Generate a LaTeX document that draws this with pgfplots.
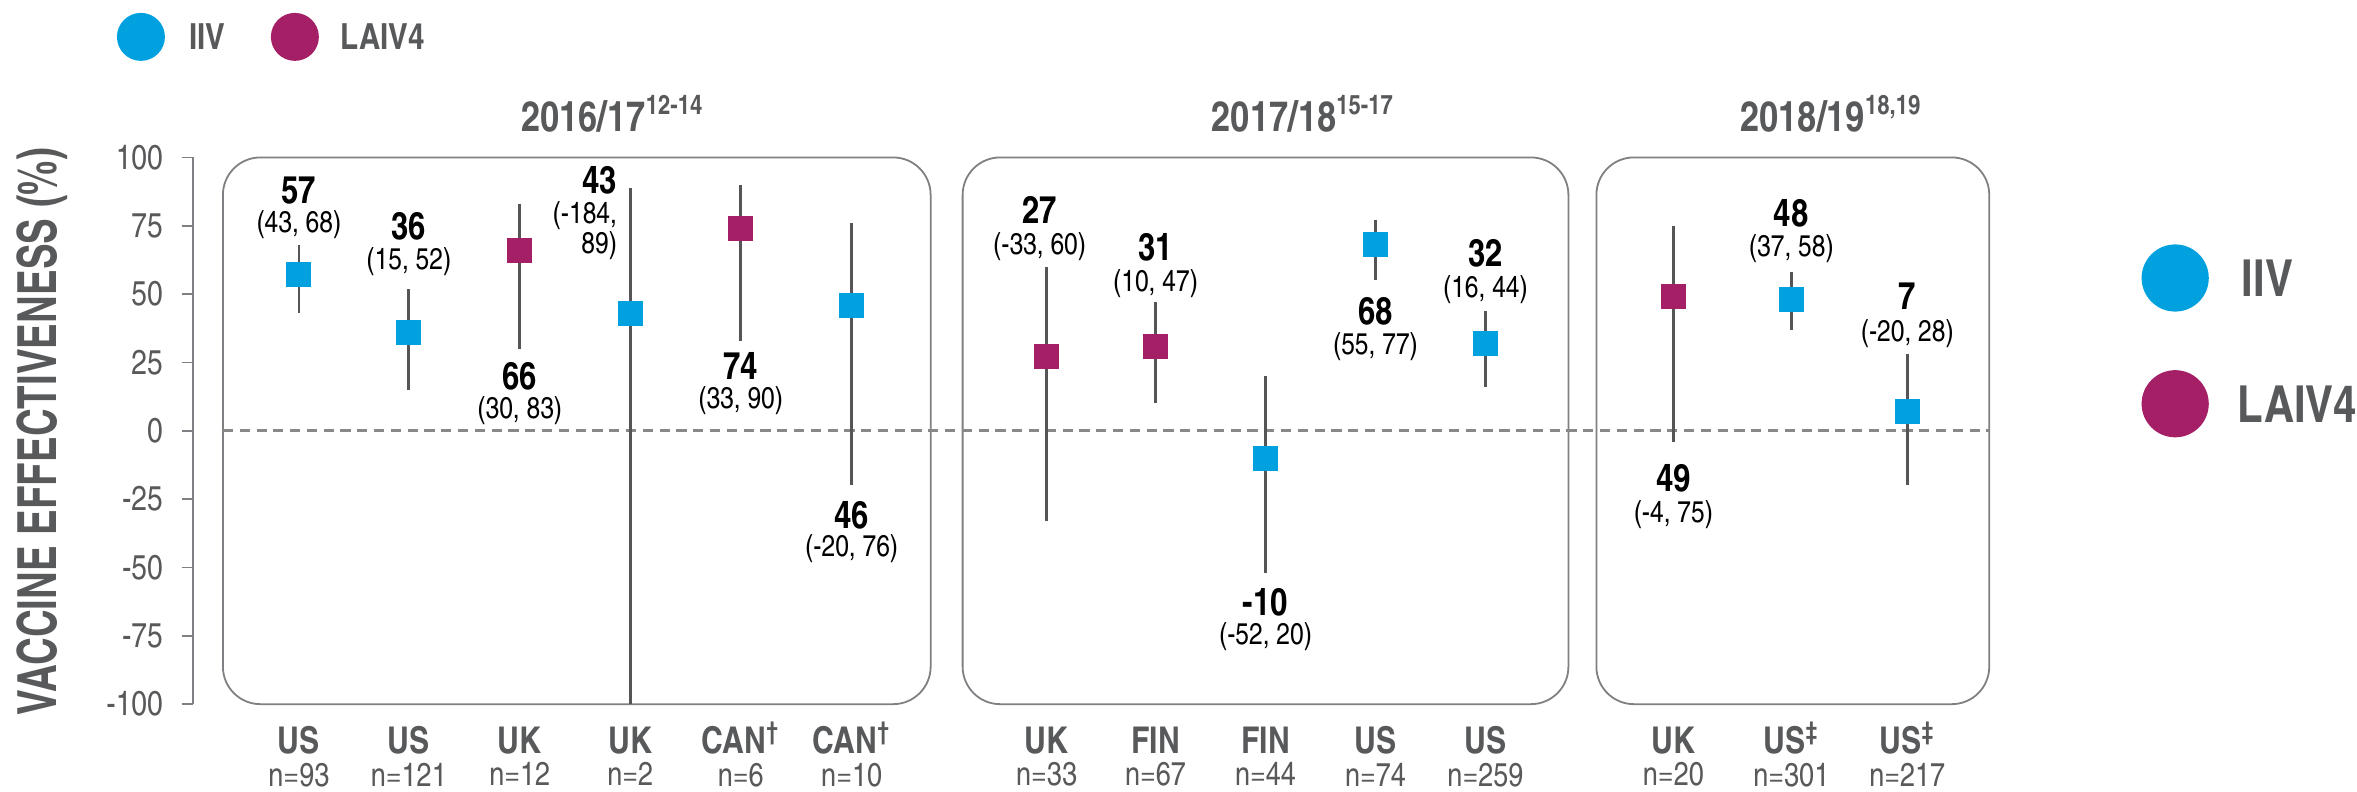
\documentclass[border=0pt]{standalone}
\usepackage{fontspec}
\setmainfont{texgyreheroscn}[Extension=.otf, UprightFont=*-regular, BoldFont=*-bold, ItalicFont=*-italic, BoldItalicFont=*-bolditalic]
\usepackage{graphicx}
\usepackage{pgfplots}
\usepackage{pgfplotstable}
\pgfplotsset{compat=1.18}

\definecolor{iiv}{RGB}{0,161,222}
\definecolor{laiv}{RGB}{165,31,103}
\definecolor{txtg}{RGB}{88,89,91}
\definecolor{whisk}{RGB}{85,85,88}
\definecolor{panelc}{RGB}{128,128,132}
\definecolor{dashc}{RGB}{136,136,136}

% x: position, v: effectiveness, lo/hi: 95% CI (UK n=2 lower bound -184 is cut at the axis floor -100)
\pgfplotstableread{
x      v    lo    hi
2.99   57   43    68
4.09   36   15    52
6.305  43  -100   89
8.52   46  -20    76
12.66 -10  -52    20
13.76  68   55    77
14.86  32   16    44
17.92  48   37    58
19.08   7  -20    28
}\iivtab

\pgfplotstableread{
x      v    lo    hi
5.20   66   30    83
7.41   74   33    90
10.47  27  -33    60
11.56  31   10    47
16.74  49   -4    75
}\laivtab

\newcommand{\valfont}{\fontsize{12.7}{13}\selectfont\bfseries}
\newcommand{\cifont}{\fontsize{10}{11}\selectfont}
\newcommand{\lab}[5]{%
  \node[anchor=base, inner sep=0pt, font=\valfont, text=black] at (axis cs:#1,#2) {#3};
  \node[anchor=base, inner sep=0pt, font=\cifont, text=black] at (axis cs:#1,#4) {#5};}
\newcommand{\cat}[2]{{\fontsize{12.3}{10.9}\selectfont\bfseries #1}\\#2}

\begin{document}
\begin{tikzpicture}
\begin{axis}[
  set layers=standard,
  width=721.4pt, height=182.3pt, scale only axis,
  xmin=1.927, xmax=23.57, ymin=-100, ymax=100,
  clip=false,
  axis lines*=left,
  x axis line style={draw=none},
  y axis line style={panelc, line width=0.6pt},
  ytick={-100,-75,...,100},
  tick align=outside,
  major tick length=3.7pt,
  ytick style={panelc, line width=0.6pt},
  xtick style={draw=none},
  /pgf/number format/assume math mode=true,
  yticklabel style={font=\fontsize{11.5}{12}\selectfont, text=txtg, inner sep=0pt, xshift=-6pt},
  xtick={2.99,4.09,5.20,6.305,7.41,8.52,10.47,11.56,12.66,13.76,14.86,16.74,17.92,19.08},
  xticklabels={
    \cat{US}{n=93}, \cat{US}{n=121}, \cat{UK}{n=12}, \cat{UK}{n=2},
    \cat{CAN\textsuperscript{\smash{†}}}{n=6}, \cat{CAN\textsuperscript{\smash{†}}}{n=10},
    \cat{UK}{n=33}, \cat{FIN}{n=67}, \cat{FIN}{n=44}, \cat{US}{n=74}, \cat{US}{n=259},
    \cat{UK}{n=20}, \cat{US\textsuperscript{\smash{‡}}}{n=301}, \cat{US\textsuperscript{\smash{‡}}}{n=217}},
  xticklabel style={font=\fontsize{11}{10.9}\selectfont, text=txtg, align=center, anchor=north, inner sep=0pt, yshift=-3.6pt, overlay},
]
% bounding box of the whole figure
\path (axis cs:0,157.6) rectangle (axis cs:23.57,-132.0);

% panels and zero line (background)
\begin{pgfonlayer}{axis background}
\draw[panelc, line width=0.6pt, rounded corners=12.5pt] (axis cs:2.23,100) rectangle (axis cs:9.31,-100);
\draw[panelc, line width=0.6pt, rounded corners=12.5pt] (axis cs:9.63,100) rectangle (axis cs:15.69,-100);
\draw[panelc, line width=0.6pt, rounded corners=12.5pt] (axis cs:15.97,100) rectangle (axis cs:19.90,-100);
\draw[dashc, line width=1pt, dash pattern=on 3.4pt off 2.2pt] (axis cs:2.23,0) -- (axis cs:19.90,0);
\end{pgfonlayer}

% whiskers
\addplot[on layer=pre main, only marks, mark=none, error bars/.cd, y dir=both, y explicit, error mark=none,
  error bar style={whisk, line width=0.9pt, solid}]
  table[x=x, y=v, y error plus expr=\thisrow{hi}-\thisrow{v}, y error minus expr=\thisrow{v}-\thisrow{lo}] {\iivtab};
\addplot[on layer=pre main, only marks, mark=none, error bars/.cd, y dir=both, y explicit, error mark=none,
  error bar style={whisk, line width=0.9pt, solid}]
  table[x=x, y=v, y error plus expr=\thisrow{hi}-\thisrow{v}, y error minus expr=\thisrow{v}-\thisrow{lo}] {\laivtab};
% points
\addplot[only marks, color=iiv, mark=square*, mark size=4pt, mark options={solid, fill=iiv, draw=iiv, line width=0pt}] table[x=x, y=v] {\iivtab};
\addplot[only marks, color=laiv, mark=square*, mark size=4pt, mark options={solid, fill=laiv, draw=laiv, line width=0pt}] table[x=x, y=v] {\laivtab};

% value labels
\lab{2.99}{83.0}{57}{72.4}{(43, 68)}
\lab{4.09}{69.8}{36}{58.9}{(15, 52)}
\lab{5.20}{15.0}{66}{4.4}{(30, 83)}
\node[anchor=base east, inner sep=0pt, font=\valfont] at (axis cs:6.178,86.9) {43};
\node[anchor=base east, inner sep=0pt, font=\cifont] at (axis cs:6.178,76.0) {(-184,};
\node[anchor=base east, inner sep=0pt, font=\cifont] at (axis cs:6.178,65.0) {89)};
\lab{7.41}{18.6}{74}{8.0}{(33, 90)}
\lab{8.52}{-35.6}{46}{-46.0}{(-20, 76)}
\lab{10.40}{75.7}{27}{64.4}{(-33, 60)}
\lab{11.56}{62.3}{31}{50.9}{(10, 47)}
\lab{12.66}{-67.6}{-10}{-78.2}{(-52, 20)}
\lab{13.76}{38.8}{68}{27.8}{(55, 77)}
\lab{14.86}{60.1}{32}{48.9}{(16, 44)}
\lab{16.74}{-22.2}{49}{-33.7}{(-4, 75)}
\lab{17.92}{74.7}{48}{63.7}{(37, 58)}
\lab{19.08}{44.2}{7}{32.7}{(-20, 28)}

% group titles
\node[anchor=base west, inner sep=0pt, text=txtg, font=\fontsize{14}{14}\selectfont\bfseries] at (axis cs:5.21,109.4) {2016/17\raisebox{5.6pt}{\fontsize{9}{9}\selectfont 12-14}};
\node[anchor=base west, inner sep=0pt, text=txtg, font=\fontsize{14}{14}\selectfont\bfseries] at (axis cs:12.117,109.4) {2017/18\raisebox{5.6pt}{\fontsize{9}{9}\selectfont 15-17}};
\node[anchor=base west, inner sep=0pt, text=txtg, font=\fontsize{14}{14}\selectfont\bfseries] at (axis cs:17.406,109.4) {2018/19\raisebox{5.6pt}{\fontsize{9}{9}\selectfont 18,19}};

% y label
\node[rotate=90, inner sep=0pt, text=txtg, font=\fontsize{18}{18}\selectfont\bfseries] at (axis cs:0.425,-0.4) {\scalebox{0.87}[1]{VACCINE EFFECTIVENESS (\%)}};

% top legend
\fill[iiv] (axis cs:1.41,144.1) circle[radius=8pt];
\node[anchor=west, inner sep=0pt, text=txtg, font=\fontsize{12}{12}\selectfont\bfseries] at (axis cs:1.887,144.1) {IIV};
\fill[laiv] (axis cs:2.95,144.1) circle[radius=8pt];
\node[anchor=west, inner sep=0pt, text=txtg, font=\fontsize{12}{12}\selectfont\bfseries] at (axis cs:3.40,144.1) {LAIV4};

% right legend
\fill[iiv] (axis cs:21.76,55.9) circle[radius=11.2pt];
\node[anchor=west, inner sep=0pt, text=txtg, font=\fontsize{17}{17}\selectfont\bfseries] at (axis cs:22.42,55.9) {IIV};
\fill[laiv] (axis cs:21.76,9.9) circle[radius=11.2pt];
\node[anchor=west, inner sep=0pt, text=txtg, font=\fontsize{17}{17}\selectfont\bfseries] at (axis cs:22.38,9.9) {LAIV4};
\end{axis}
\end{tikzpicture}
\end{document}
